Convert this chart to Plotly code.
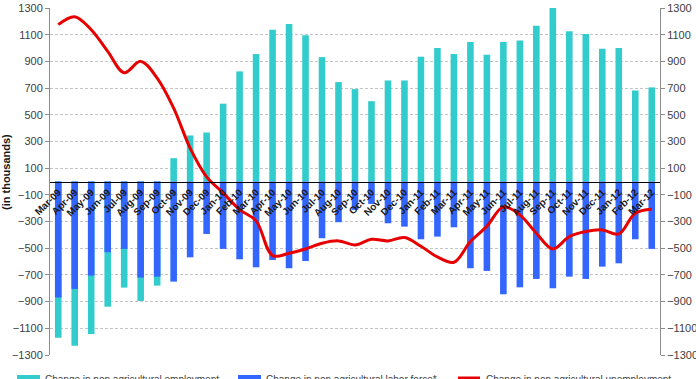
import plotly.graph_objects as go

months = ["Mar-09", "Apr-09", "May-09", "Jun-09", "Jul-09", "Aug-09", "Sep-09", "Oct-09",
          "Nov-09", "Dec-09", "Jan-10", "Feb-10", "Mar-10", "Apr-10", "May-10", "Jun-10",
          "Jul-10", "Aug-10", "Sep-10", "Oct-10", "Nov-10", "Dec-10", "Jan-11", "Feb-11",
          "Mar-11", "Apr-11", "May-11", "Jun-11", "Jul-11", "Aug-11", "Sep-11", "Oct-11",
          "Nov-11", "Dec-11", "Jan-12", "Feb-12", "Mar-12"]

employment = [-1170, -1230, -1143, -938, -795, -895, -780, 175, 345, 367, 583, 825,
              955, 1137, 1180, 1095, 932, 745, 692, 602, 757, 757, 935, 1000, 955,
              1045, 950, 1045, 1057, 1167, 1300, 1125, 1105, 995, 1000, 682, 705]

labor_force = [-869, -805, -705, -530, -505, -720, -713, -750, -568, -393, -505, -583,
               -643, -588, -650, -596, -425, -305, -213, -168, -313, -338, -433, -413,
               -343, -650, -670, -845, -793, -730, -800, -713, -730, -638, -613, -433, -505]

unemployment = [1175, 1235, 1137, 975, 815, 900, 775, 550, 250, 35, -85, -210,
                -295, -555, -538, -506, -463, -445, -475, -433, -445, -420, -485, -565,
                -605, -450, -335, -190, -250, -388, -505, -413, -375, -363, -393, -238, -208]

y_ticks = list(range(-1300, 1301, 200))

legend_labels = ["Change in non agricultural employment",
                 "Change in non agricultural labor force*",
                 "Change in non agricultural unemployment"]

TEAL = "#33cccc"
BLUE = "#3366ff"
RED = "rgb(230,0,0)"
FONT = "Arial, 'Liberation Sans', sans-serif"

W, H = 696, 379
ML, MR, MT, MB = 50, 36, 8, 24
PW, PH = W - ML - MR, H - MT - MB


def px(x):
    return (x - ML) / PW


def py(y):
    return (H - MB - y) / PH


fig = go.Figure()
fig.add_trace(go.Bar(x=months, y=employment, name=legend_labels[0],
                     marker=dict(color=TEAL, line=dict(width=0)), width=0.4,
                     opacity=1, showlegend=False))
fig.add_trace(go.Bar(x=months, y=labor_force, name=legend_labels[1],
                     marker=dict(color=BLUE, line=dict(width=0)), width=0.4,
                     opacity=1, showlegend=False))
fig.add_trace(go.Scatter(x=months, y=unemployment, name=legend_labels[2], mode="lines",
                         line=dict(color=RED, width=3, shape="spline", smoothing=1.0),
                         yaxis="y2", showlegend=False))

axis_common = dict(range=[-1300, 1300], tickvals=y_ticks, showline=True, linecolor="#8c8c8c",
                   linewidth=1, ticks="outside", ticklen=4, tickcolor="#8c8c8c",
                   tickfont=dict(family=FONT, size=11, color="#404040"), zeroline=False)

fig.update_layout(
    width=W, height=H,
    margin=dict(l=ML, r=MR, t=MT, b=MB, autoexpand=False),
    paper_bgcolor="white", plot_bgcolor="white",
    barmode="overlay", bargap=0.6,
    font=dict(family=FONT),
    xaxis=dict(type="category", range=[-0.5, len(months) - 0.5], anchor="free", position=0.5,
               showline=True, linecolor="black", linewidth=1, ticks="", showgrid=False,
               tickangle=-45, tickfont=dict(family=FONT, size=10, color="#1a1a1a", weight="bold"),
               zeroline=False),
    yaxis=dict(**axis_common, showgrid=True, gridcolor="#c4c4c4", griddash="3px,2px", gridwidth=1),
    yaxis2=dict(**axis_common, overlaying="y", side="right", anchor="x", showgrid=False),
    showlegend=False,
)

# y-axis title
fig.add_annotation(text="<b>(in thousands)</b>", xref="paper", yref="paper",
                   x=px(6), y=py(172), textangle=-90, showarrow=False,
                   font=dict(family=FONT, size=11, color="#1a1a1a"),
                   xanchor="center", yanchor="middle")

# manual legend (bottom, partly cut off as in the original)
sym_x = [(17, 40), (238, 261), (458, 480)]
text_x = [43, 264, 484]
for i, lab in enumerate(legend_labels):
    x0, x1 = sym_x[i]
    if i < 2:
        fig.add_shape(type="rect", xref="paper", yref="paper",
                      x0=px(x0), x1=px(x1), y0=py(383), y1=py(375),
                      fillcolor=[TEAL, BLUE][i], line=dict(width=0))
    else:
        fig.add_shape(type="line", xref="paper", yref="paper",
                      x0=px(x0), x1=px(x1), y0=py(378), y1=py(378),
                      line=dict(color=RED, width=3))
    fig.add_annotation(text=lab, xref="paper", yref="paper", x=px(text_x[i]), y=py(379),
                       xanchor="left", yanchor="middle", showarrow=False,
                       font=dict(family=FONT, size=10, color="#404040"))

fig.write_html("out.html")
